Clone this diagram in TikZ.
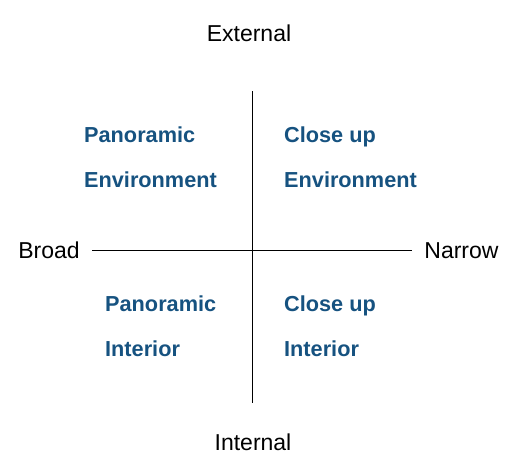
\documentclass[tikz,border=0pt]{standalone}
\usepackage{fontspec}
\setmainfont{Liberation Sans}
\usepackage{tikz}
\definecolor{myblue}{RGB}{22,82,128}
\tikzset{
  axis label/.style={font=\fontsize{23}{26}\selectfont, inner sep=0pt, text height=16.5pt, text depth=0pt},
  quad label/.style={font=\fontsize{21.7}{24}\selectfont\bfseries, text=myblue, anchor=west, inner sep=0pt, text height=15.6pt, text depth=0pt},
  axis/.style={line width=1pt, black}
}

\begin{document}
\begin{tikzpicture}[x=1pt, y=-1pt]
  \useasboundingbox (0,0) rectangle (514,472);

  % Axes
  \coordinate (top) at (252,91);
  \coordinate (bottom) at (252,403);
  \coordinate (left) at (92,250);
  \coordinate (right) at (412,250);
  \draw[axis] (top) -- (bottom);
  \draw[axis] (left) -- (right);

  % Axis labels
  \node[axis label] (external) at (249,33) {External};
  \node[axis label] (internal) at (253,442.5) {Internal};
  \node[axis label] (broad) at (49,250.5) {Broad};
  \node[axis label] (narrow) at (461.5,250.5) {Narrow};

  % Quadrants
  \node[quad label] (panenv) at (84,135) {Panoramic};
  \node[quad label] (panenv2) at (84,180) {Environment};
  \node[quad label] (closeenv) at (284,135) {Close up};
  \node[quad label] (closeenv2) at (284,180) {Environment};
  \node[quad label] (panint) at (105,304) {Panoramic};
  \node[quad label] (panint2) at (105,349) {Interior};
  \node[quad label] (closeint) at (284,304) {Close up};
  \node[quad label] (closeint2) at (284,349) {Interior};

\end{tikzpicture}
\end{document}
